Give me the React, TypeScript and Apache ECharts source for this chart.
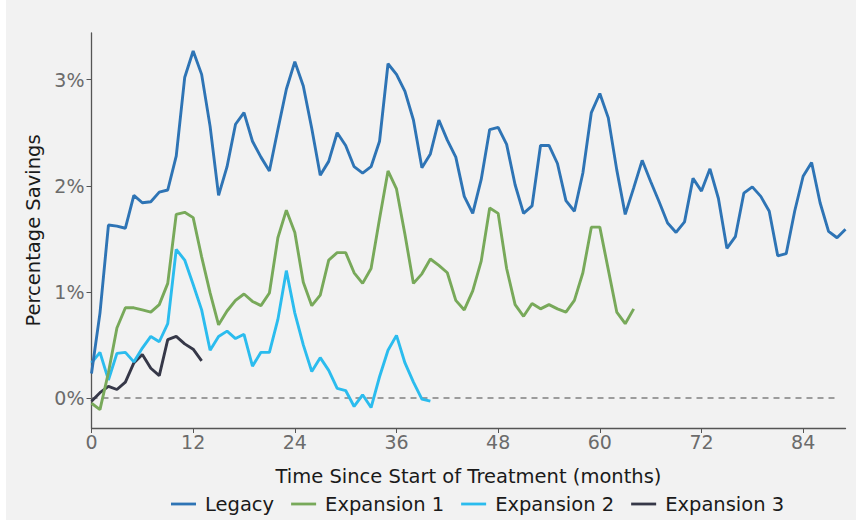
import React, { useEffect, useRef } from "react";
import * as echarts from "echarts";

const seriesNames = ["Legacy", "Expansion 1", "Expansion 2", "Expansion 3"];
const seriesColors = ["#2e74b5", "#78a95a", "#2bbcee", "#363848"];

const legacy = [0.23,0.80,1.63,1.62,1.60,1.91,1.84,1.85,1.94,1.96,2.28,3.02,3.27,3.05,2.56,1.91,2.18,2.58,2.69,2.42,2.27,2.14,2.53,2.91,3.17,2.94,2.54,2.10,2.23,2.50,2.38,2.18,2.12,2.18,2.42,3.15,3.05,2.89,2.62,2.17,2.30,2.62,2.43,2.27,1.90,1.74,2.06,2.53,2.55,2.39,2.01,1.74,1.81,2.38,2.38,2.21,1.86,1.76,2.12,2.69,2.87,2.64,2.15,1.73,1.98,2.24,2.04,1.85,1.65,1.56,1.66,2.07,1.95,2.16,1.88,1.41,1.52,1.93,1.99,1.90,1.76,1.34,1.36,1.76,2.09,2.22,1.84,1.57,1.51,1.59];
const expansion1 = [-0.05,-0.11,0.24,0.66,0.85,0.85,0.83,0.81,0.88,1.08,1.73,1.75,1.70,1.33,0.99,0.69,0.82,0.92,0.98,0.91,0.87,0.99,1.51,1.77,1.56,1.09,0.87,0.97,1.30,1.37,1.37,1.18,1.08,1.22,1.69,2.14,1.97,1.54,1.08,1.17,1.31,1.25,1.18,0.92,0.83,1.01,1.29,1.79,1.74,1.22,0.88,0.77,0.89,0.84,0.88,0.84,0.81,0.92,1.18,1.61,1.61,1.21,0.81,0.70,0.84];
const expansion2 = [0.33,0.43,0.17,0.42,0.43,0.34,0.47,0.58,0.53,0.70,1.40,1.30,1.07,0.83,0.45,0.58,0.63,0.56,0.60,0.30,0.43,0.43,0.74,1.20,0.80,0.50,0.25,0.38,0.26,0.09,0.07,-0.08,0.03,-0.09,0.20,0.45,0.59,0.33,0.15,-0.01,-0.03];
const expansion3 = [-0.03,0.05,0.11,0.08,0.15,0.33,0.41,0.28,0.21,0.55,0.58,0.51,0.46,0.35];

const xTicks = [0, 12, 24, 36, 48, 60, 72, 84];
const yTicks = [0, 1, 2, 3];
const zeroLineEnd = 88;

const allSeries = [legacy, expansion1, expansion2, expansion3];
const FONT = "DejaVu Sans";

export default function App() {
  const ref = useRef<HTMLDivElement>(null);
  useEffect(() => {
    if (!ref.current) return;
    const chart = echarts.init(ref.current, null, { renderer: "svg" });
    const series: any[] = allSeries.map((vals, i) => ({
      name: seriesNames[i],
      type: "line",
      data: vals.map((v, m) => [m, v]),
      symbol: "none",
      showSymbol: false,
      z: 10 - i,
      lineStyle: { width: 2.9, color: seriesColors[i] },
      itemStyle: { color: seriesColors[i] },
    }));
    series[0].markLine = {
      silent: true,
      symbol: "none",
      label: { show: false },
      lineStyle: { type: [6, 5], color: "#808080", width: 1.6 },
      data: [[{ coord: [0, 0] }, { coord: [zeroLineEnd, 0] }]],
      z: 1,
    };
    chart.setOption({
      animation: false,
      backgroundColor: "#ffffff",
      graphic: [
        {
          type: "rect",
          shape: { x: 6, y: 0, width: 850, height: 520 },
          style: { fill: "#f2f2f2" },
          z: -10,
          silent: true,
        },
      ],
      grid: { left: 91.5, right: 16.5, top: 33, bottom: 101 },
      xAxis: {
        type: "value",
        min: 0,
        max: 89,
        name: "Time Since Start of Treatment (months)",
        nameLocation: "middle",
        nameGap: 38,
        nameTextStyle: { fontFamily: FONT, fontSize: 19.5, color: "#1a1a1a" },
        splitLine: { show: false },
        axisLine: { show: true, onZero: false, lineStyle: { color: "#555555", width: 1.3 } },
        axisTick: { show: true, length: 5, customValues: xTicks, lineStyle: { color: "#555555" } },
        axisLabel: {
          customValues: xTicks,
          fontFamily: FONT,
          fontSize: 19,
          color: "#6b6b6b",
          margin: 4,
        },
      },
      yAxis: {
        type: "value",
        min: -0.283,
        max: 3.44,
        name: "Percentage Savings",
        nameLocation: "middle",
        nameGap: 47,
        nameTextStyle: { fontFamily: FONT, fontSize: 19.5, color: "#1a1a1a" },
        splitLine: { show: false },
        axisLine: { show: true, onZero: false, lineStyle: { color: "#555555", width: 1.3 } },
        axisTick: { show: true, length: 5, customValues: yTicks, lineStyle: { color: "#555555" } },
        axisLabel: {
          customValues: yTicks,
          fontFamily: FONT,
          fontSize: 19,
          color: "#6b6b6b",
          margin: 7,
          formatter: (v: number) => `${v}%`,
        },
      },
      legend: {
        data: seriesNames.map((n) => ({ name: n, icon: "rect" })),
        left: 166,
        top: 489,
        itemWidth: 25,
        itemHeight: 2.8,
        itemGap: 17,
        textStyle: { fontFamily: FONT, fontSize: 19.5, color: "#1a1a1a", padding: [0, 0, 0, 4] },
      },
      series,
    });
    return () => chart.dispose();
  }, []);
  return (
    <div
      ref={ref}
      style={{ position: "absolute", left: 0, top: 0, width: 862, height: 529 }}
    />
  );
}
